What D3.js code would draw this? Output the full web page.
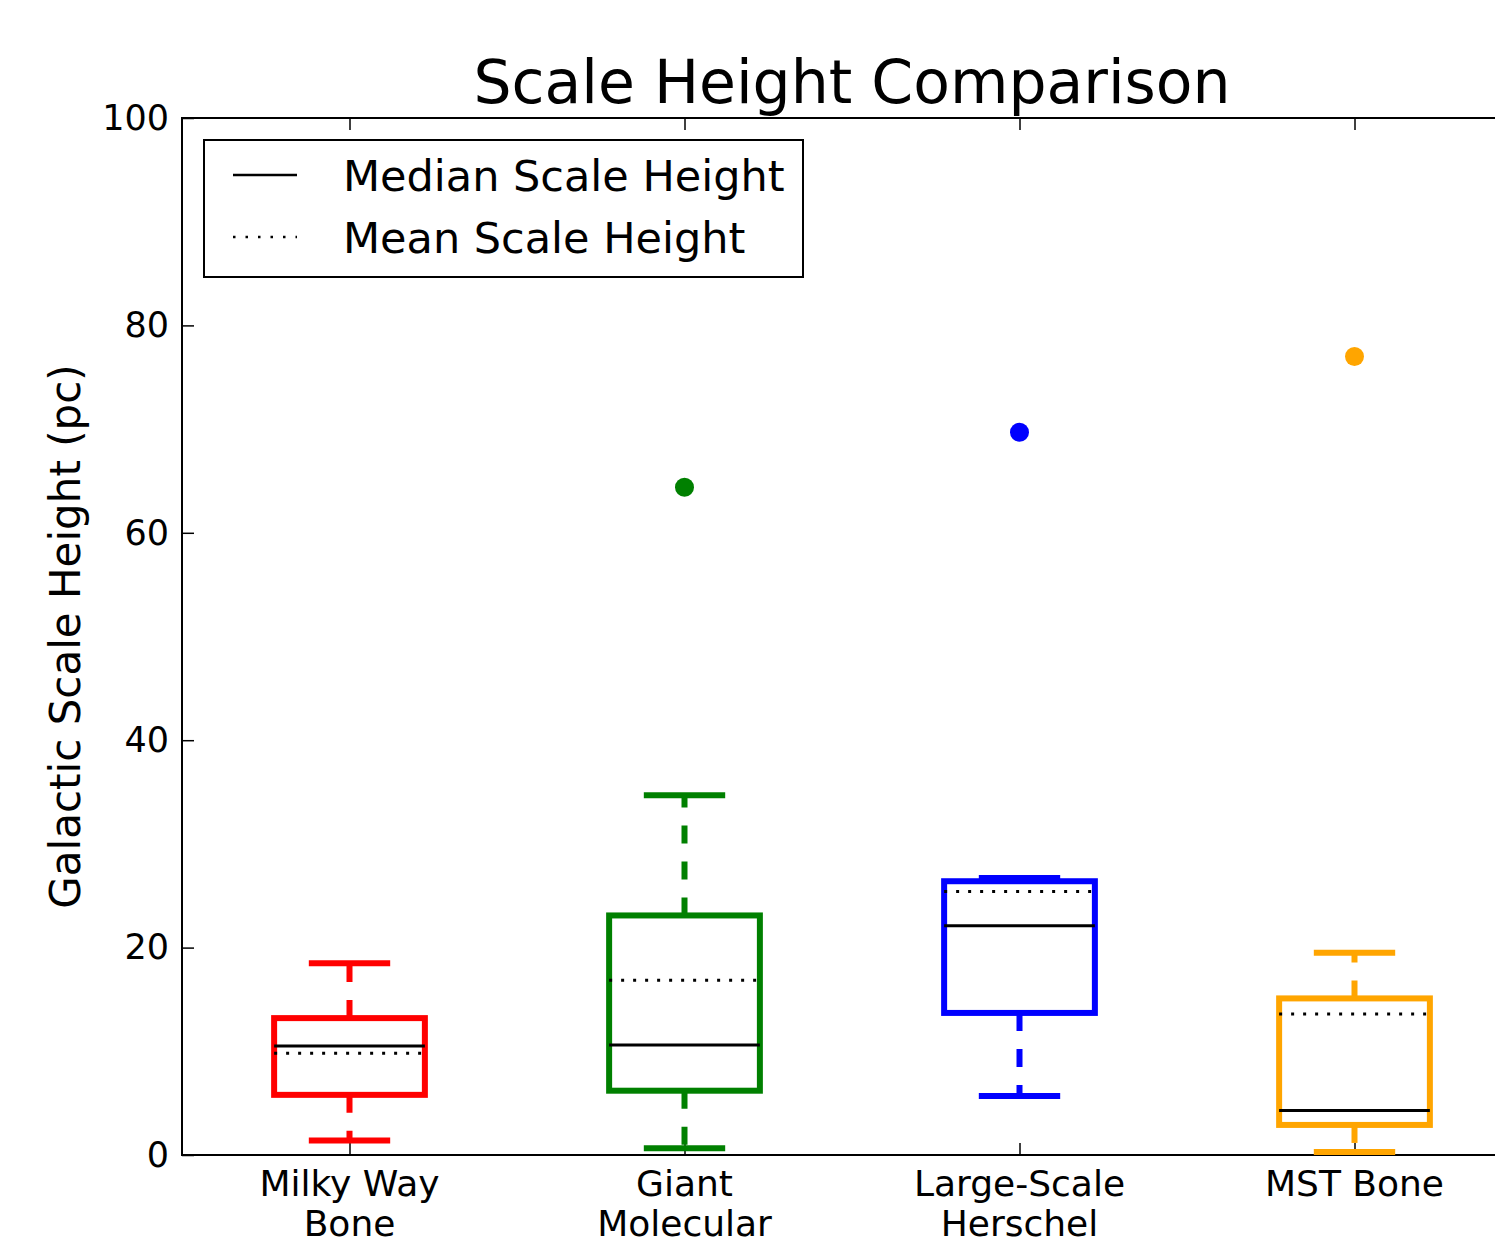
<!DOCTYPE html>
<html>
<head>
<meta charset="utf-8">
<script src="https://cdn.jsdelivr.net/npm/d3@7"></script>
<style>
  body { margin: 0; background: #fff; }
  text { font-family: "DejaVu Sans", sans-serif; fill: #000; }
</style>
</head>
<body>
<div id="chart"></div>
<script>
// box plot summary values (pc)
const categories = ["Milky Way\nBone", "Giant\nMolecular", "Large-Scale\nHerschel", "MST Bone"];
const colors = ["#ff0000", "#008000", "#0000ff", "#ffa500"];
const whiskerLow = [1.4, 0.65, 5.7, 0.3];
const q1 = [5.8, 6.2, 13.7, 2.9];
const medians = [10.5, 10.6, 22.1, 4.3];
const means = [9.8, 16.85, 25.4, 13.6];
const q3 = [13.2, 23.1, 26.4, 15.1];
const whiskerHigh = [18.5, 34.7, 26.7, 19.5];
const outliers = [null, 64.4, 69.7, 77.0];
const yTicks = [0, 20, 40, 60, 80, 100];

const width = 1495, height = 1248;
const margin = {top: 118, left: 182};
const plotW = 1340, plotH = 1037;

const svg = d3.select("#chart")
    .append("svg")
    .attr("width", width)
    .attr("height", height);

const g = svg.append("g")
    .attr("transform", `translate(${margin.left},${margin.top})`);

const x = d3.scaleLinear().domain([0.5, 4.5]).range([0, plotW]);
const y = d3.scaleLinear().domain([0, 100]).range([plotH, 0]);

const boxW = 0.45, capW = 0.225;

// axes, ticks pointing inward (classic matplotlib look)
const yAxis = g.append("g")
    .call(d3.axisLeft(y).tickValues(yTicks).tickSize(-12).tickPadding(13));
yAxis.selectAll("text").style("font-size", "35px");

g.append("g")
    .attr("transform", `translate(0,${plotH})`)
    .call(d3.axisBottom(x).tickValues([1, 2, 3, 4]).tickSize(-12).tickFormat(""));

g.append("g")
    .call(d3.axisTop(x).tickValues([1, 2, 3, 4]).tickSize(-12).tickFormat(""));

g.selectAll(".domain").remove();
g.selectAll(".tick line").attr("stroke", "#000").attr("stroke-width", 1.5);

// multi-line category labels
categories.forEach((c, i) => {
    const t = g.append("text")
        .attr("x", x(i + 1))
        .attr("y", plotH + 41)
        .attr("text-anchor", "middle")
        .style("font-size", "36px");
    c.split("\n").forEach((line, j) => {
        t.append("tspan")
            .attr("x", x(i + 1))
            .attr("dy", j === 0 ? 0 : 40)
            .text(line);
    });
});

// spines
g.append("rect")
    .attr("width", plotW)
    .attr("height", plotH)
    .attr("fill", "none")
    .attr("stroke", "#000")
    .attr("stroke-width", 2);

// boxes
categories.forEach((c, i) => {
    const cx = x(i + 1);
    const bx0 = x(i + 1 - boxW / 2), bx1 = x(i + 1 + boxW / 2);
    const cx0 = x(i + 1 - capW / 2), cx1 = x(i + 1 + capW / 2);
    const col = colors[i];

    // whiskers: dashed, drawn from box edge outward
    g.append("line")
        .attr("x1", cx).attr("x2", cx)
        .attr("y1", y(q3[i])).attr("y2", y(whiskerHigh[i]))
        .attr("stroke", col).attr("stroke-width", 6)
        .attr("stroke-dasharray", "18,18");
    g.append("line")
        .attr("x1", cx).attr("x2", cx)
        .attr("y1", y(q1[i])).attr("y2", y(whiskerLow[i]))
        .attr("stroke", col).attr("stroke-width", 6)
        .attr("stroke-dasharray", "18,18");

    // caps
    [whiskerHigh[i], whiskerLow[i]].forEach(v => {
        g.append("line")
            .attr("x1", cx0).attr("x2", cx1)
            .attr("y1", y(v)).attr("y2", y(v))
            .attr("stroke", col).attr("stroke-width", 6)
            .attr("stroke-linecap", "square");
    });

    // box
    g.append("rect")
        .attr("x", bx0)
        .attr("y", y(q3[i]))
        .attr("width", bx1 - bx0)
        .attr("height", y(q1[i]) - y(q3[i]))
        .attr("fill", "none")
        .attr("stroke", col)
        .attr("stroke-width", 6);

    // median
    g.append("line")
        .attr("x1", bx0).attr("x2", bx1)
        .attr("y1", y(medians[i])).attr("y2", y(medians[i]))
        .attr("stroke", "#000").attr("stroke-width", 3);

    // mean (dotted)
    g.append("line")
        .attr("x1", bx0).attr("x2", bx1)
        .attr("y1", y(means[i])).attr("y2", y(means[i]))
        .attr("stroke", "#000").attr("stroke-width", 3)
        .attr("stroke-dasharray", "3,9");

    // outlier
    if (outliers[i] !== null) {
        g.append("circle")
            .attr("cx", cx)
            .attr("cy", y(outliers[i]))
            .attr("r", 9.5)
            .attr("fill", col);
    }
});

// legend
const legend = svg.append("g");
legend.append("rect")
    .attr("x", 204).attr("y", 140)
    .attr("width", 599).attr("height", 137)
    .attr("fill", "#fff")
    .attr("stroke", "#000")
    .attr("stroke-width", 2);

const legendItems = [
    {label: "Median Scale Height", dash: null},
    {label: "Mean Scale Height", dash: "2.5,10"}
];
legendItems.forEach((d, i) => {
    const ly = 175 + i * 62;
    legend.append("line")
        .attr("x1", 233).attr("x2", 297)
        .attr("y1", ly).attr("y2", ly)
        .attr("stroke", "#000")
        .attr("stroke-width", 2.5)
        .attr("stroke-dasharray", d.dash);
    legend.append("text")
        .attr("x", 343)
        .attr("y", ly + 16)
        .style("font-size", "43px")
        .text(d.label);
});

// title
svg.append("text")
    .attr("x", margin.left + plotW / 2)
    .attr("y", 103)
    .attr("text-anchor", "middle")
    .style("font-size", "60px")
    .text("Scale Height Comparison");

// y-axis label
svg.append("text")
    .attr("transform", `translate(80,${margin.top + plotH / 2}) rotate(-90)`)
    .attr("text-anchor", "middle")
    .style("font-size", "42px")
    .text("Galactic Scale Height (pc)");
</script>
</body>
</html>
